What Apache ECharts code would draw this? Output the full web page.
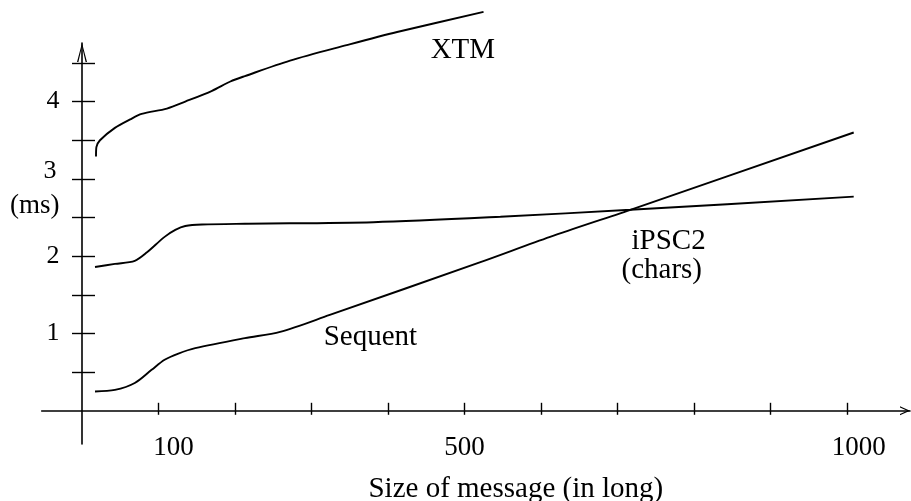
<!DOCTYPE html>
<html>
<head>
<meta charset="utf-8">
<script src="https://cdn.jsdelivr.net/npm/echarts@6/dist/echarts.min.js"></script>
<style>
html,body{margin:0;padding:0;background:#fff;}
#chart{width:911px;height:501px;}
</style>
</head>
<body>
<div id="chart"></div>
<script>
// ---- data ----
const xTickValues = [100, 200, 300, 400, 500, 600, 700, 800, 900, 1000];
const xLabelValues = [100, 500, 1000];
const yTickValues = [0.5, 1, 1.5, 2, 2.5, 3, 3.5, 4, 4.5];
const yLabelValues = [1, 2, 3, 4];

const xtmX = [18.3, 18.8, 23.5, 43, 63, 78, 111, 135, 170, 194, 213, 272, 346, 412, 525];
const xtmY = [3.29, 3.41, 3.50, 3.66, 3.77, 3.84, 3.91, 4.00, 4.14, 4.26, 4.33, 4.53, 4.73, 4.90, 5.16];

const ipscX = [17, 43, 69, 85, 108, 122, 135, 157, 213, 381, 547, 717, 1009];
const ipscY = [1.86, 1.90, 1.94, 2.05, 2.25, 2.34, 2.39, 2.41, 2.42, 2.44, 2.51, 2.60, 2.77];

const seqX = [17, 43, 69, 91, 108, 126, 148, 213, 259, 324, 520, 612, 717, 1009];
const seqY = [0.25, 0.27, 0.36, 0.53, 0.66, 0.74, 0.81, 0.94, 1.02, 1.24, 1.92, 2.25, 2.60, 3.60];

const seriesNames = ['XTM', 'iPSC2 (chars)', 'Sequent'];
const annotations = [
  {text: 'XTM', x: 498, y: 4.66},
  {text: 'iPSC2', x: 767, y: 2.195},
  {text: '(chars)', x: 758, y: 1.82},
  {text: 'Sequent', x: 377, y: 0.955}
];
const xAxisTitle = 'Size of message (in long)';
const yUnit = '(ms)';

// ---- chart ----
const FONT = '"Liberation Serif", "Times New Roman", serif';
const INK = '#000';
const zip = (xs, ys) => xs.map((x, i) => [x, ys[i]]);

const xMin = -52.7, xMax = 1082.6, yMin = -0.4295, yMax = 4.758;

const lineStyle = {color: INK, width: 1.9};

function baseX(extra) {
  return Object.assign({
    type: 'value', min: xMin, max: xMax, position: 'bottom',
    splitLine: {show: false}, nameMoveOverlap: false
  }, extra);
}
function baseY(extra) {
  return Object.assign({
    type: 'value', min: yMin, max: yMax, position: 'left',
    splitLine: {show: false}, nameMoveOverlap: false
  }, extra);
}

const markFor = (items) => ({
  silent: true,
  symbol: 'circle', symbolSize: 1,
  itemStyle: {color: 'rgba(0,0,0,0)'},
  label: {show: true, position: 'inside', color: INK, fontFamily: FONT, fontSize: 29,
          formatter: p => p.name},
  data: items.map(a => ({name: a.text, coord: [a.x, a.y]}))
});

const option = {
  animation: false,
  backgroundColor: '#fff',
  textStyle: {fontFamily: FONT, color: INK},
  grid: {left: 41.7, right: 1, top: 43, bottom: 57, containLabel: false, outerBoundsMode: 'none'},
  xAxis: [
    baseX({
      axisLine: {show: true, onZero: true, onZeroAxisIndex: 0,
        symbol: ['none', 'path://M0,10 L4.5,0 L9,10 L7.7,10 L4.5,2.8 L1.3,10 Z'],
        symbolSize: [9, 10], symbolOffset: [0, -5],
        lineStyle: {color: INK, width: 1.6}},
      axisTick: {show: true, inside: false, length: 4, customValues: xTickValues,
        lineStyle: {color: INK, width: 1.4}},
      axisLabel: {show: true, customValues: xLabelValues, margin: -10,
        color: INK, fontFamily: FONT, fontSize: 27,
        formatter: v => v === 100 ? '{a|' + v + '}' : (v === 1000 ? '{b|' + v + '}' : '{c|' + v + '}'),
        rich: {
          a: {fontFamily: FONT, fontSize: 27, color: INK, padding: [0, 0, 0, 30]},
          b: {fontFamily: FONT, fontSize: 27, color: INK, padding: [0, 0, 0, 24]},
          c: {fontFamily: FONT, fontSize: 27, color: INK}
        }},
      name: xAxisTitle, nameLocation: 'middle', nameGap: 31,
      nameTextStyle: {fontFamily: FONT, fontSize: 29, color: INK, padding: [0, 0, 0, 80]}
    }),
    baseX({
      axisLine: {show: true, onZero: true, onZeroAxisIndex: 0, lineStyle: {color: INK, width: 0, opacity: 0}},
      axisTick: {show: true, inside: true, length: 8, customValues: xTickValues,
        lineStyle: {color: INK, width: 1.4}},
      axisLabel: {show: false}
    })
  ],
  yAxis: [
    baseY({
      axisLine: {show: true, onZero: true, onZeroAxisIndex: 0,
        symbol: ['none', 'path://M0,19 L5,0 L10,19 L8.6,19 L5,3.6 L1.4,19 Z'],
        symbolSize: [10, 19], symbolOffset: [0, -9.5],
        lineStyle: {color: INK, width: 1.6}},
      axisTick: {show: true, inside: false, length: 10, customValues: yTickValues,
        lineStyle: {color: INK, width: 1.4}},
      axisLabel: {show: true, customValues: yLabelValues, margin: -17.8,
        color: INK, fontFamily: FONT, fontSize: 26,
        formatter: v => v === 3 ? '{s| }\n{n3|3}\n{u|' + yUnit + '}' : '{n|' + v + '}',
        rich: {
          n: {fontFamily: FONT, fontSize: 26, color: INK},
          n3: {fontFamily: FONT, fontSize: 26, color: INK, lineHeight: 35, padding: [0, 3, 0, 0]},
          s: {fontFamily: FONT, fontSize: 10, lineHeight: 20},
          u: {fontFamily: FONT, fontSize: 27, color: INK, lineHeight: 35}
        }}
    }),
    baseY({
      axisLine: {show: true, onZero: true, onZeroAxisIndex: 0, lineStyle: {color: INK, width: 0, opacity: 0}},
      axisTick: {show: true, inside: true, length: 13, customValues: yTickValues,
        lineStyle: {color: INK, width: 1.4}},
      axisLabel: {show: false}
    })
  ],
  series: [
    {name: seriesNames[0], type: 'line', data: zip(xtmX, xtmY), showSymbol: false, smooth: 0.3,
     clip: false, lineStyle: lineStyle, itemStyle: {color: INK},
     markPoint: markFor(annotations.slice(0, 1))},
    {name: seriesNames[1], type: 'line', data: zip(ipscX, ipscY), showSymbol: false, smooth: 0.3,
     clip: false, lineStyle: lineStyle, itemStyle: {color: INK},
     markPoint: markFor(annotations.slice(1, 3))},
    {name: seriesNames[2], type: 'line', data: zip(seqX, seqY), showSymbol: false, smooth: 0.3,
     clip: false, lineStyle: lineStyle, itemStyle: {color: INK},
     markPoint: markFor(annotations.slice(3, 4))}
  ]
};

const chart = echarts.init(document.getElementById('chart'), null, {renderer: 'canvas', width: 911, height: 501});
chart.setOption(option);
</script>
</body>
</html>
